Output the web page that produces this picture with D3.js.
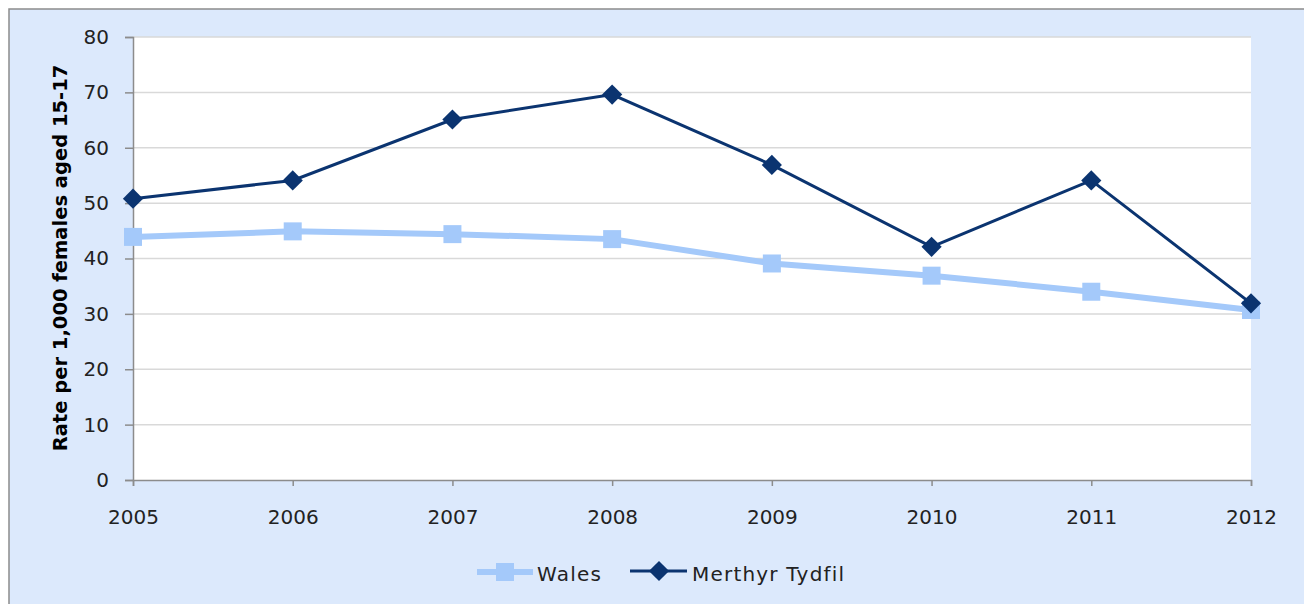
<!DOCTYPE html>
<html>
<head>
<meta charset="utf-8">
<script src="https://cdn.jsdelivr.net/npm/d3@7"></script>
<style>
  body { margin: 0; background: #fff; }
  svg { display: block; font-family: "DejaVu Sans", sans-serif; }
</style>
</head>
<body>
<svg id="chart" width="1304" height="604"></svg>
<script>
// data
const years = ["2005", "2006", "2007", "2008", "2009", "2010", "2011", "2012"];
const wales = [43.9, 44.9, 44.4, 43.5, 39.1, 36.9, 34.0, 30.7];
const merthyr = [50.8, 54.1, 65.1, 69.6, 56.9, 42.1, 54.1, 31.9];
const yTicks = [0, 10, 20, 30, 40, 50, 60, 70, 80];

const svg = d3.select("#chart");
const margin = {top: 37, left: 133, right: 1251, bottom: 480};

// outer chart area
svg.append("rect")
    .attr("x", 9).attr("y", 9)
    .attr("width", 1304).attr("height", 604)
    .attr("fill", "#dce9fc")
    .attr("stroke", "#8c8c8c")
    .attr("stroke-width", 1.5);

const x = d3.scalePoint().domain(years).range([margin.left, margin.right]);
const y = d3.scaleLinear().domain([0, 80]).range([margin.bottom, margin.top]);

// plot area
svg.append("rect")
    .attr("x", margin.left).attr("y", margin.top)
    .attr("width", margin.right - margin.left)
    .attr("height", margin.bottom - margin.top)
    .attr("fill", "#fff");

// gridlines
svg.append("g")
    .selectAll("line")
    .data(yTicks.filter(d => d > 0))
    .enter()
    .append("line")
    .attr("x1", margin.left).attr("x2", margin.right)
    .attr("y1", d => y(d)).attr("y2", d => y(d))
    .attr("stroke", "#d9d9d9")
    .attr("stroke-width", 1.5);

// y axis
const yAxis = svg.append("g")
    .attr("transform", `translate(${margin.left},0)`)
    .call(d3.axisLeft(y).tickValues(yTicks).tickSize(8).tickPadding(16));
yAxis.selectAll("text").attr("font-size", 20).attr("fill", "#222");

// x axis
const xAxis = svg.append("g")
    .attr("transform", `translate(0,${margin.bottom})`)
    .call(d3.axisBottom(x).tickSize(6).tickPadding(24));
xAxis.selectAll("text").attr("font-size", 20).attr("fill", "#222");

svg.selectAll(".domain, .tick line")
    .attr("stroke", "#8c8c8c")
    .attr("stroke-width", 1.5);
svg.selectAll(".tick text").attr("font-family", "DejaVu Sans");

// y label
svg.append("text")
    .attr("transform", "rotate(-90)")
    .attr("x", -258)
    .attr("y", 67)
    .style("text-anchor", "middle")
    .attr("font-size", 19.5)
    .attr("font-weight", "bold")
    .text("Rate per 1,000 females aged 15-17");

const line = d3.line().x((d, i) => x(years[i])).y(d => y(d));

// Wales
svg.append("path")
    .datum(wales)
    .attr("d", line)
    .attr("fill", "none")
    .attr("stroke", "#a4c9fa")
    .attr("stroke-width", 6);
svg.append("g")
    .selectAll("rect")
    .data(wales)
    .enter()
    .append("rect")
    .attr("x", (d, i) => x(years[i]) - 9)
    .attr("y", d => y(d) - 9)
    .attr("width", 18).attr("height", 18)
    .attr("fill", "#a4c9fa");

// Merthyr Tydfil
svg.append("path")
    .datum(merthyr)
    .attr("d", line)
    .attr("fill", "none")
    .attr("stroke", "#0b3470")
    .attr("stroke-width", 3);
const diamond = d3.symbol().type(d3.symbolDiamond2).size(260);
svg.append("g")
    .selectAll("path")
    .data(merthyr)
    .enter()
    .append("path")
    .attr("d", diamond)
    .attr("transform", (d, i) => `translate(${x(years[i])},${y(d)})`)
    .attr("fill", "#0b3470");

// legend
const lg = svg.append("g").attr("font-size", 20).attr("letter-spacing", 1.2);
lg.append("line").attr("x1", 477).attr("x2", 533).attr("y1", 572).attr("y2", 572)
    .attr("stroke", "#a4c9fa").attr("stroke-width", 6);
lg.append("rect").attr("x", 496).attr("y", 563).attr("width", 18).attr("height", 18)
    .attr("fill", "#a4c9fa");
lg.append("text").attr("x", 537).attr("y", 581).text("Wales").attr("fill", "#222");
lg.append("line").attr("x1", 630).attr("x2", 687).attr("y1", 571).attr("y2", 571)
    .attr("stroke", "#0b3470").attr("stroke-width", 3);
lg.append("path").attr("d", diamond).attr("transform", "translate(659,571)")
    .attr("fill", "#0b3470");
lg.append("text").attr("x", 692).attr("y", 581).text("Merthyr Tydfil").attr("fill", "#222");
</script>
</body>
</html>
